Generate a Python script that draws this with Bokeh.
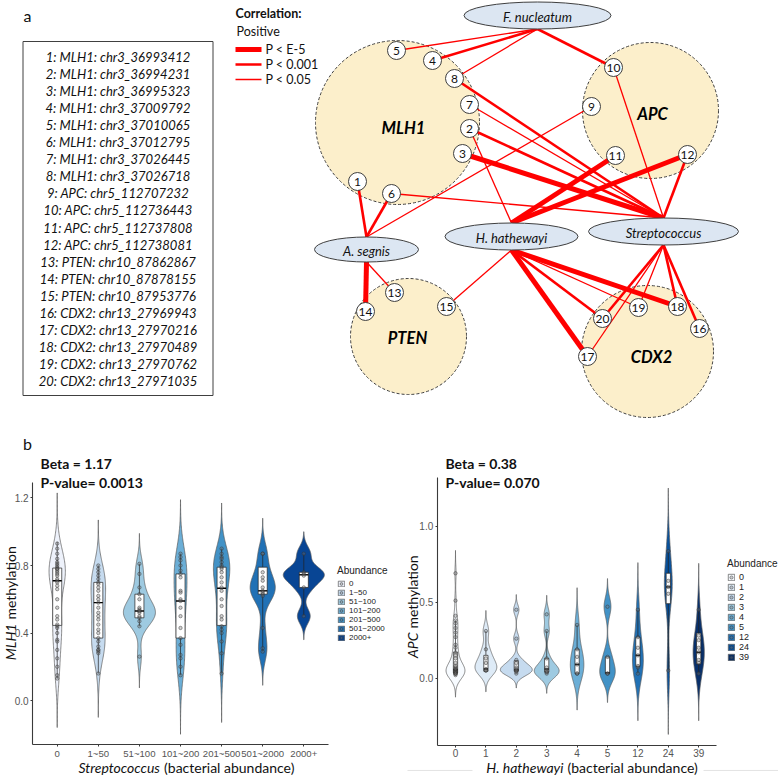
import numpy as np
from bokeh.plotting import figure
from bokeh.models import Range1d, Legend, LegendItem, PrintfTickFormatter
from bokeh.layouts import column, row
from bokeh.core.properties import value
from bokeh.embed import file_html
from bokeh.resources import INLINE

# ---------------- panel a : data ----------------
site_labels = [
    "1: MLH1: chr3_36993412", "2: MLH1: chr3_36994231", "3: MLH1: chr3_36995323",
    "4: MLH1: chr3_37009792", "5: MLH1: chr3_37010065", "6: MLH1: chr3_37012795",
    "7: MLH1: chr3_37026445", "8: MLH1: chr3_37026718", "9: APC: chr5_112707232",
    "10: APC: chr5_112736443", "11: APC: chr5_112737808", "12: APC: chr5_112738081",
    "13: PTEN: chr10_87862867", "14: PTEN: chr10_87878155", "15: PTEN: chr10_87953776",
    "16: CDX2: chr13_27969943", "17: CDX2: chr13_27970216", "18: CDX2: chr13_27970489",
    "19: CDX2: chr13_27970762", "20: CDX2: chr13_27971035"]
genes = ["MLH1", "APC", "PTEN", "CDX2"]
bacteria = ["F. nucleatum", "A. segnis", "H. hathewayi", "Streptococcus"]
# edges: (site number, bacterium index, significance level 3:P<E-5, 2:P<0.001, 1:P<0.05)
edges = [(5, 0, 1), (4, 0, 2), (8, 0, 1), (10, 0, 2),
         (1, 1, 2), (6, 1, 2), (9, 1, 1), (14, 1, 3), (13, 1, 1),
         (2, 2, 1), (11, 2, 3), (12, 2, 3), (15, 2, 1), (17, 2, 3), (20, 2, 2), (19, 2, 1), (18, 2, 3),
         (3, 3, 3), (8, 3, 2), (7, 3, 1), (2, 3, 2), (6, 3, 1), (10, 3, 1), (12, 3, 2),
         (20, 3, 2), (19, 3, 1), (18, 3, 2), (16, 3, 2), (17, 3, 1)]
levels = ["P < E-5", "P < 0.001", "P < 0.05"]

# network layout (pixel space of panel a)
gene_pos = [(397, 122, 82), (650, 110, 68), (408, 336, 58), (647, 351, 66)]
gene_lab = [(403, 127), (652, 113), (407, 337), (651, 356)]
bact_pos = [(537, 15, 147, 27), (366, 249, 104, 25), (511, 236, 133, 27), (663, 231, 150, 27)]
node_pos = {1: (357, 181), 2: (469, 128), 3: (462, 153), 4: (432, 60), 5: (396, 50),
            6: (391, 193), 7: (469, 104), 8: (454, 78), 9: (591, 106), 10: (613, 67),
            11: (615, 155), 12: (687, 154), 13: (394, 292), 14: (365, 311), 15: (446, 306),
            16: (699, 328), 17: (587, 356), 18: (677, 306), 19: (638, 307), 20: (602, 318)}
lvl_width = {3: 5.0, 2: 2.6, 1: 1.3}

# ---------------- panel b : data ----------------
cats_L = ["0", "1~50", "51~100", "101~200", "201~500", "501~2000", "2000+"]
colors_L = ["#EEF2FB", "#C6DBEF", "#9ECAE1", "#6BAED6", "#4292C6", "#2171B5", "#084594"]
ext_L = [(-0.16, 1.23), (-0.10, 1.07), (0.075, 0.99), (-0.20, 1.19), (-0.13, 1.17), (0.09, 1.08), (0.36, 1.00)]
pts_L = [
    [0.93, 0.90, 0.87, 0.84, 0.82, 0.81, 0.80, 0.79, 0.78, 0.78, 0.77, 0.76, 0.75, 0.74, 0.72, 0.71, 0.70,
     0.68, 0.66, 0.60, 0.55, 0.50, 0.48, 0.45, 0.44, 0.43, 0.40, 0.36, 0.35, 0.30, 0.25, 0.20, 0.15, 0.13],
    [0.80, 0.78, 0.76, 0.74, 0.72, 0.70, 0.69, 0.67, 0.65, 0.62, 0.60, 0.58, 0.55, 0.52, 0.50, 0.48, 0.45,
     0.42, 0.40, 0.37, 0.35, 0.32, 0.30, 0.30, 0.29, 0.28, 0.16],
    [0.81, 0.75, 0.67, 0.63, 0.60, 0.55, 0.54, 0.53, 0.53, 0.52, 0.50, 0.49, 0.47, 0.44, 0.26],
    [0.87, 0.85, 0.83, 0.80, 0.77, 0.75, 0.73, 0.65, 0.64, 0.60, 0.59, 0.55, 0.50, 0.43, 0.37, 0.33, 0.27,
     0.25, 0.20, 0.15],
    [0.90, 0.87, 0.85, 0.84, 0.82, 0.80, 0.79, 0.78, 0.76, 0.73, 0.70, 0.67, 0.65, 0.60, 0.56, 0.50, 0.48,
     0.44, 0.42, 0.40, 0.35, 0.28, 0.16],
    [0.87, 0.87, 0.76, 0.73, 0.71, 0.67, 0.65, 0.64, 0.63, 0.62, 0.43, 0.31, 0.29],
    [0.87, 0.76, 0.75, 0.74, 0.67, 0.50]]
# box stats: q1, median, q3, whisker low, whisker high
box_L = [(0.445, 0.71, 0.785, 0.13, 0.94), (0.37, 0.58, 0.70, 0.16, 0.80), (0.49, 0.53, 0.63, 0.44, 0.81),
         (0.37, 0.59, 0.75, 0.15, 0.87), (0.445, 0.665, 0.79, 0.16, 0.90), (0.63, 0.65, 0.79, 0.29, 0.87),
         (0.67, 0.745, 0.76, 0.50, 0.87)]

cats_R = ["0", "1", "2", "3", "4", "5", "12", "24", "39"]
colors_R = ["#F7FBFF", "#DEEBF7", "#C6DBEF", "#9ECAE1", "#6BAED6", "#4292C6", "#2171B5", "#08519C", "#08306B"]
ext_R = [(-0.125, 0.84), (-0.09, 0.445), (-0.065, 0.55), (-0.10, 0.545), (-0.21, 0.595), (-0.16, 0.655),
         (-0.28, 0.76), (-0.37, 1.25), (-0.28, 0.755)]
pts_R = [
    [0.69, 0.51, 0.41, 0.38, 0.36, 0.33, 0.30, 0.27, 0.22, 0.20, 0.17, 0.15, 0.13, 0.10, 0.08, 0.07, 0.06,
     0.06, 0.05, 0.05, 0.05, 0.04, 0.04, 0.04, 0.04, 0.03, 0.03, 0.03, 0.03, 0.02],
    [0.31, 0.19, 0.13, 0.10, 0.06, 0.05, 0.05],
    [0.45, 0.26, 0.12, 0.10, 0.07, 0.06, 0.05, 0.05, 0.04, 0.03],
    [0.42, 0.31, 0.13, 0.07, 0.05, 0.04, 0.04, 0.03],
    [0.35, 0.19, 0.14, 0.09, 0.03, 0.03],
    [0.47, 0.14, 0.03, 0.03],
    [0.45, 0.27, 0.20, 0.15, 0.08, 0.07, 0.03],
    [0.835, 0.64, 0.60, 0.555, 0.05],
    [0.45, 0.28, 0.25, 0.20, 0.17, 0.12, 0.10, 0.03]]
box_R = [(0.035, 0.055, 0.17, 0.02, 0.38), (0.045, 0.06, 0.15, 0.04, 0.31), (0.045, 0.055, 0.115, 0.03, 0.12),
         (0.04, 0.06, 0.13, 0.03, 0.31), (0.03, 0.09, 0.19, 0.03, 0.35), (0.03, 0.035, 0.14, 0.03, 0.14),
         (0.077, 0.15, 0.27, 0.03, 0.45), (0.49, 0.60, 0.69, 0.05, 0.835), (0.094, 0.17, 0.296, 0.03, 0.45)]

FONT = value("Lato")
AXF = "Liberation Sans"

W_PAGE = 778
TOP_H = 418
BOT_H = 360

# ================= panel a =================
top = figure(width=W_PAGE, height=TOP_H, x_range=Range1d(0, W_PAGE), y_range=Range1d(TOP_H, 0),
             output_backend="svg", toolbar_location=None, min_border=0)
top.axis.visible = False
top.grid.visible = False
top.outline_line_color = None

top.text(x=[27], y=[15], text=["a"], text_font=FONT, text_font_size="16px",
         text_align="center", text_baseline="middle", text_color="#111111")
top.quad(left=[22.5], right=[212.5], top=[41], bottom=[395], fill_color=None, line_color="#404040", line_width=1)
top.text(x=[117.5] * len(site_labels), y=[56.7 + 17.03 * i for i in range(len(site_labels))], text=site_labels,
         text_font=FONT, text_font_style="italic", text_font_size="13px",
         text_align="center", text_baseline="middle", text_color="#111111")

# correlation legend
top.text(x=[235], y=[13], text=["Correlation:"], text_font=FONT, text_font_style="bold",
         text_font_size="12.5px", text_baseline="middle", text_color="#111111")
top.text(x=[236], y=[31], text=["Positive"], text_font=FONT, text_font_size="12.5px",
         text_baseline="middle", text_color="#111111")
leg_y = [49, 64, 79]
top.segment(x0=[235] * 3, y0=leg_y, x1=[261] * 3, y1=leg_y, line_color="#FF0000",
            line_width=[lvl_width[3], lvl_width[2], lvl_width[1]])
top.text(x=[265] * 3, y=leg_y, text=levels, text_font=FONT, text_font_size="12.5px",
         text_baseline="middle", text_color="#111111")

# gene circles
top.ellipse(x=[g[0] for g in gene_pos], y=[g[1] for g in gene_pos],
            width=[2 * g[2] for g in gene_pos], height=[2 * g[2] for g in gene_pos],
            fill_color="#FCEFCB", line_color="#404040", line_width=1, line_dash="3 2")

# edges
ex0, ey0, ex1, ey1, ew = [], [], [], [], []
for n, b, lv in edges:
    nx, ny = node_pos[n]
    bx, by, bw_, bh = bact_pos[b]
    ay = by - bh / 2 if ny < by else by + bh / 2
    ex0.append(nx); ey0.append(ny); ex1.append(bx); ey1.append(ay); ew.append(lvl_width[lv])
top.segment(x0=ex0, y0=ey0, x1=ex1, y1=ey1, line_color="#FF0000", line_width=ew)

# bacteria ellipses
top.ellipse(x=[b[0] for b in bact_pos], y=[b[1] for b in bact_pos],
            width=[b[2] for b in bact_pos], height=[b[3] for b in bact_pos],
            fill_color="#DCE6F2", line_color="#3F3F3F", line_width=1)
top.text(x=[b[0] for b in bact_pos], y=[b[1] + 1 for b in bact_pos], text=bacteria,
         text_font=FONT, text_font_style="italic", text_font_size="13px",
         text_align="center", text_baseline="middle", text_color="#111111")

# gene labels
top.text(x=[g[0] for g in gene_lab], y=[g[1] for g in gene_lab], text=genes,
         text_font=FONT, text_font_style="bold italic", text_font_size="16.5px",
         text_align="center", text_baseline="middle", text_color="#000000")

# site nodes
nums = sorted(node_pos)
top.ellipse(x=[node_pos[k][0] for k in nums], y=[node_pos[k][1] for k in nums], width=18, height=18,
            fill_color="white", line_color="#404040", line_width=1)
top.text(x=[node_pos[k][0] for k in nums], y=[node_pos[k][1] + 0.5 for k in nums], text=[str(k) for k in nums],
         text_font=FONT, text_font_size="12px", text_align="center", text_baseline="middle",
         text_color="#111111")


# ================= panel b =================
def violin_shapes(ext, pts_list, W):
    profs = []
    for (lo, hi), pts in zip(ext, pts_list):
        p_ = np.asarray(pts, float)
        bw = ((p_.min() - lo) + (hi - p_.max())) / 6.0
        g = np.linspace(lo, hi, 181)
        d = np.exp(-0.5 * ((g[:, None] - p_[None, :]) / bw) ** 2).sum(axis=1) / (len(p_) * bw * np.sqrt(2 * np.pi))
        profs.append((g, d))
    gmax = max(d.max() for g, d in profs)
    xs, ys = [], []
    for k, (g, d) in enumerate(profs, start=1):
        h = d / gmax * W / 2
        xs.append(np.concatenate([k - h, (k + h)[::-1]]).tolist())
        ys.append(np.concatenate([g, g[::-1]]).tolist())
    return xs, ys


def panel(cats, colors, ext, pts, boxes, xr, yr, yaxis_at, xaxis_at, ybounds, yticks, W, boxw,
          beta, pval, text_x, beta_y, pval_y, ylab, ylab_x, ylab_split, ygap,
          xlab, xlab_split, xlab_y, xgap, leg_loc, leg_font, leg_glyph_h, xtick_font, panel_letter=None):
    p = figure(width=389, height=BOT_H, x_range=Range1d(*xr), y_range=Range1d(*yr),
               output_backend="svg", toolbar_location=None, min_border=0)
    p.grid.visible = False
    p.outline_line_color = None
    n = len(cats)
    xs, ys = violin_shapes(ext, pts, W)
    vr = p.patches(xs, ys, fill_color=colors, line_color="#5A5A5A", line_width=0.7)
    ks = list(range(1, n + 1))
    q1 = [b[0] for b in boxes]; md = [b[1] for b in boxes]; q3 = [b[2] for b in boxes]
    wl = [b[3] for b in boxes]; wh = [b[4] for b in boxes]
    p.segment(x0=ks, y0=q3, x1=ks, y1=wh, line_color="#222222", line_width=0.7)
    p.segment(x0=ks, y0=q1, x1=ks, y1=wl, line_color="#222222", line_width=0.7)
    p.quad(left=[k - boxw / 2 for k in ks], right=[k + boxw / 2 for k in ks], bottom=q1, top=q3,
           fill_color="white", line_color="#222222", line_width=0.7)
    p.segment(x0=[k - boxw / 2 for k in ks], y0=md, x1=[k + boxw / 2 for k in ks], y1=md,
              line_color="#000000", line_width=1.4)
    px_, py_ = [], []
    for k, pp in zip(ks, pts):
        px_ += [k] * len(pp); py_ += list(pp)
    pr = p.scatter(x=px_, y=py_, marker="circle", size=3.4, fill_color="#777777", fill_alpha=0.35,
                   line_color="#333333", line_width=0.6, line_alpha=0.8)

    # axes
    p.yaxis.fixed_location = yaxis_at
    p.xaxis.fixed_location = xaxis_at
    p.yaxis.bounds = ybounds
    p.xaxis.bounds = (0.4, n + 0.6)
    p.yaxis.ticker = yticks
    p.yaxis.formatter = PrintfTickFormatter(format="%.1f")
    p.xaxis.ticker = ks
    p.xaxis.major_label_overrides = {k: c for k, c in zip(ks, cats)}
    for ax in (p.xaxis, p.yaxis):
        ax.axis_line_color = "#3A3A3A"
        ax.axis_line_width = 1.1
        ax.major_tick_line_color = "#3A3A3A"
        ax.major_tick_in = 0
        ax.major_tick_out = 2
        ax.minor_tick_line_color = None
        ax.major_label_text_font = AXF
        ax.major_label_text_font_size = "10px"
        ax.major_label_text_color = "#555555"
        ax.major_label_standoff = 2
    p.xaxis.major_label_text_font_size = xtick_font

    # annotation texts
    if panel_letter:
        p.text(x=[panel_letter[0]], y=[panel_letter[1]], text=["b"], text_font=FONT, text_font_size="16px",
               text_align="center", text_baseline="middle", text_color="#111111")
    p.text(x=[text_x, text_x], y=[beta_y, pval_y], text=[beta, pval], text_font=FONT, text_font_style="bold",
           text_font_size="14px", text_baseline="middle", text_color="#111111")
    p.text(x=[ylab_x], y=[ylab_split], text=[ylab[0]], angle=np.pi / 2, text_align="right",
           text_baseline="middle", text_font=FONT, text_font_style="italic", text_font_size="14px",
           text_color="#111111")
    p.text(x=[ylab_x], y=[ylab_split + ygap], text=[ylab[1]], angle=np.pi / 2, text_align="left",
           text_baseline="middle", text_font=FONT, text_font_size="14px", text_color="#111111")
    p.text(x=[xlab_split], y=[xlab_y], text=[xlab[0]], text_align="right", text_baseline="middle",
           text_font=FONT, text_font_style="italic", text_font_size="14px", text_color="#111111")
    p.text(x=[xlab_split + xgap], y=[xlab_y], text=[xlab[1]], text_align="left", text_baseline="middle",
           text_font=FONT, text_font_size="14px", text_color="#111111")

    # legend (keys drawn from the violin fills and the point glyph)
    items = [LegendItem(label=c, renderers=[vr, pr], index=i) for i, c in enumerate(cats)]
    leg = Legend(items=items, location=leg_loc, title="Abundance",
                 title_text_font=AXF, title_text_font_size="10px", title_text_font_style="normal",
                 title_text_color="#222222", title_standoff=3,
                 label_text_font=AXF, label_text_font_size=leg_font, label_text_color="#222222",
                 glyph_width=8, glyph_height=leg_glyph_h, label_height=leg_glyph_h, label_standoff=4,
                 spacing=0, padding=0, margin=0, border_line_color=None, background_fill_alpha=0)
    p.add_layout(leg)
    return p


# left panel: x page = 56.7 + (k-1)*41.1 ; value = (700 - y_page)/168.75
left = panel(cats_L, colors_L, ext_L, pts_L, box_L,
             xr=(-0.380, 9.085), yr=(-0.462, 1.671), yaxis_at=0.4, xaxis_at=-0.26, ybounds=(-0.26, 1.29),
             yticks=[0.0, 0.4, 0.8, 1.2], W=1.0, boxw=0.22,
             beta="Beta = 1.17", pval="P-value= 0.0013", text_x=0.594, beta_y=1.404, pval_y=1.292,
             ylab=("MLH1", "methylation"), ylab_x=-0.146, ylab_split=0.456, ygap=0.024,
             xlab=("Streptococcus", "(bacterial abundance)"), xlab_split=3.5, xlab_y=-0.397, xgap=0.1,
             leg_loc=(337, 136), leg_font="8px", leg_glyph_h=7, xtick_font="9.6px",
             panel_letter=(0.277, 1.523))

# right panel: x page = 455 + (k-1)*30.4 ; value = (677.7 - y_page)/152
right = panel(cats_R, colors_R, ext_R, pts_R, box_R,
              xr=(-1.171, 11.625), yr=(-0.660, 1.708), yaxis_at=0.4, xaxis_at=-0.44, ybounds=(-0.44, 1.32),
              yticks=[0.0, 0.5, 1.0], W=1.05, boxw=0.14,
              beta="Beta = 0.38", pval="P-value= 0.070", text_x=0.671, beta_y=1.413, pval_y=1.288,
              ylab=("APC", "methylation"), ylab_x=-0.414, ylab_split=0.30, ygap=0.026,
              xlab=("H. hathewayi", "(bacterial abundance)"), xlab_split=4.553, xlab_y=-0.588, xgap=0.13,
              leg_loc=(338, 116), leg_font="9px", leg_glyph_h=8, xtick_font="10px")
# faint rule beside the right panel's x title, as in the source image
right.segment(x0=[-0.579, 9.158], y0=[-0.607, -0.607], x1=[1.559, 11.625], y1=[-0.607, -0.607],
              line_color="#E3E3E3", line_width=1)

layout = column(top, row(left, right))
open("out.html", "w").write(file_html(layout, INLINE))
